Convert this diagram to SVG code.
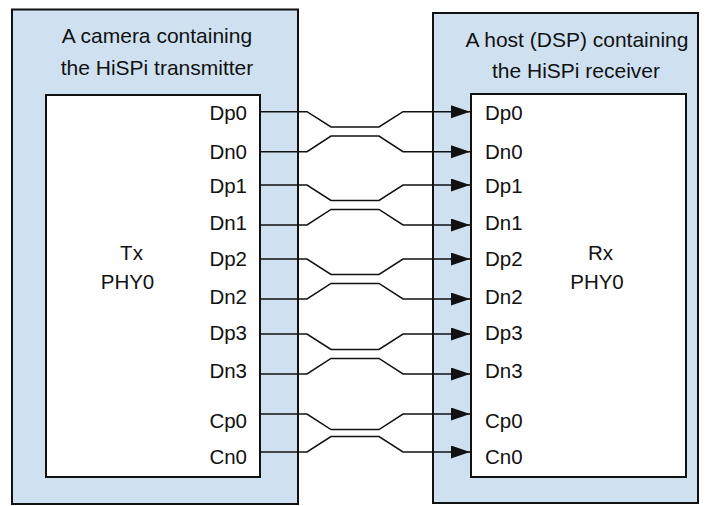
<svg xmlns="http://www.w3.org/2000/svg" width="711" height="506" viewBox="0 0 711 506">
<style>
.outer{fill:#cfe1f1;stroke:#111;stroke-width:2}
.inner{fill:#fff;stroke:#111;stroke-width:2}
text{font-family:"Liberation Sans",Arial,sans-serif;font-size:20.5px;fill:#111}
.t{font-size:21px}
.c{text-anchor:middle}
.r{text-anchor:end}
.w{fill:none;stroke:#111;stroke-width:1.5}
</style>
<defs>
<marker id="ah" markerUnits="userSpaceOnUse" markerWidth="20" markerHeight="14" refX="19" refY="6.5" orient="auto">
<path d="M0,0 L19,6.5 L0,13 Z" fill="#111"/>
</marker>
</defs>
<g id="camera">
<rect class="outer" x="12" y="9.5" width="286" height="494.5"/>
<text class="c t" x="157" y="42.7">A camera containing</text>
<text class="c t" x="157" y="75">the HiSPi transmitter</text>
<rect class="inner" x="46" y="95" width="214" height="382"/>
<text class="c" x="131.5" y="260">Tx</text>
<text class="c" x="127.5" y="289">PHY0</text>
<text class="r" x="247" y="120">Dp0</text>
<text class="r" x="247" y="158.5">Dn0</text>
<text class="r" x="247" y="192.5">Dp1</text>
<text class="r" x="247" y="229.5">Dn1</text>
<text class="r" x="247" y="266">Dp2</text>
<text class="r" x="247" y="304">Dn2</text>
<text class="r" x="247" y="340">Dp3</text>
<text class="r" x="247" y="377.5">Dn3</text>
<text class="r" x="247" y="427.7">Cp0</text>
<text class="r" x="247" y="464.3">Cn0</text>
</g>
<g id="host">
<rect class="outer" x="433" y="13" width="265" height="490"/>
<text class="c t" x="577" y="46.7">A host (DSP) containing</text>
<text class="c t" x="576" y="78.3">the HiSPi receiver</text>
<rect class="inner" x="471" y="94" width="215" height="383"/>
<text class="c" x="600.5" y="260">Rx</text>
<text class="c" x="597" y="289">PHY0</text>
<text x="485" y="120">Dp0</text>
<text x="485" y="158.5">Dn0</text>
<text x="485" y="192.5">Dp1</text>
<text x="485" y="229.5">Dn1</text>
<text x="485" y="266">Dp2</text>
<text x="485" y="304">Dn2</text>
<text x="485" y="340">Dp3</text>
<text x="485" y="377.5">Dn3</text>
<text x="485" y="427.7">Cp0</text>
<text x="485" y="464.3">Cn0</text>
</g>
<g id="connectors">
<path class="w" marker-end="url(#ah)" d="M261,111.7 H307 L331,127 H379 L403,111.7 H470"/>
<path class="w" marker-end="url(#ah)" d="M261,151.7 H307 L331,136 H379 L403,151.7 H470"/>
<path class="w" marker-end="url(#ah)" d="M261,185 H307 L331,200.4 H379 L403,185 H470"/>
<path class="w" marker-end="url(#ah)" d="M261,225 H307 L331,209.4 H379 L403,225 H470"/>
<path class="w" marker-end="url(#ah)" d="M261,259 H307 L331,274.4 H379 L403,259 H470"/>
<path class="w" marker-end="url(#ah)" d="M261,299 H307 L331,283.4 H379 L403,299 H470"/>
<path class="w" marker-end="url(#ah)" d="M261,334 H307 L331,349.4 H379 L403,334 H470"/>
<path class="w" marker-end="url(#ah)" d="M261,374 H307 L331,358.4 H379 L403,374 H470"/>
<path class="w" marker-end="url(#ah)" d="M261,414 H307 L331,429.6 H379 L403,414 H470"/>
<path class="w" marker-end="url(#ah)" d="M261,452 H307 L331,436.6 H379 L403,452 H470"/>
</g>
</svg>
